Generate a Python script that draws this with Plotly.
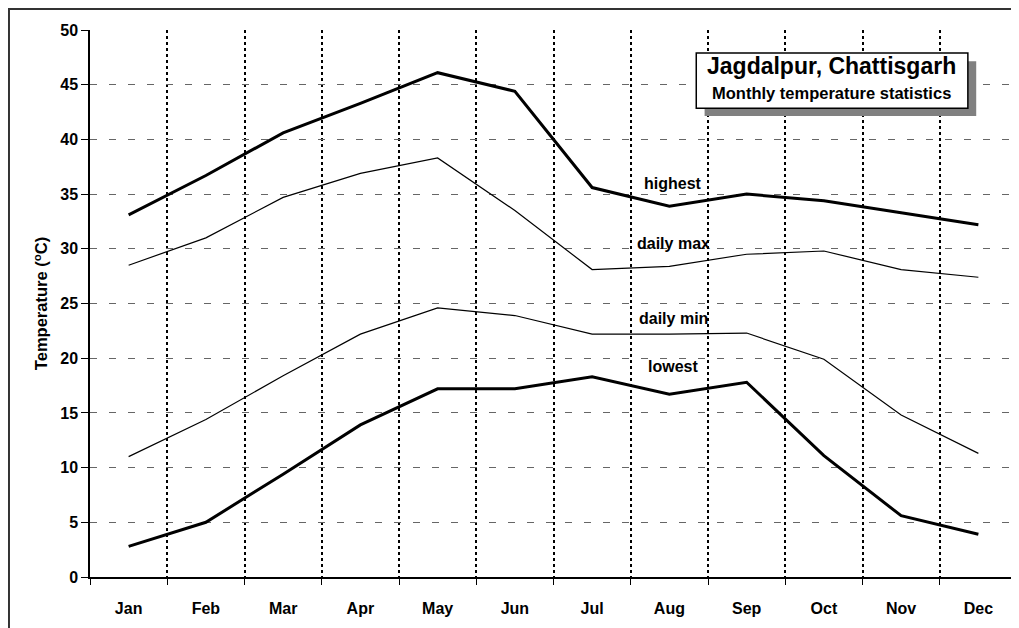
import plotly.graph_objects as go

# Monthly temperature statistics, Jagdalpur
months = ["Jan", "Feb", "Mar", "Apr", "May", "Jun", "Jul", "Aug", "Sep", "Oct", "Nov", "Dec"]
highest = [33.1, 36.7, 40.6, 43.3, 46.1, 44.4, 35.6, 33.9, 35.0, 34.4, 33.3, 32.2]
daily_max = [28.5, 31.0, 34.7, 36.9, 38.3, 33.5, 28.1, 28.4, 29.5, 29.8, 28.1, 27.4]
daily_min = [11.0, 14.4, 18.4, 22.2, 24.6, 23.9, 22.2, 22.2, 22.3, 19.9, 14.8, 11.3]
lowest = [2.8, 5.0, 9.4, 13.9, 17.2, 17.2, 18.3, 16.7, 17.8, 11.1, 5.6, 3.9]

x = list(range(1, len(months) + 1))
font = "Arial, Liberation Sans, sans-serif"

fig = go.Figure()
series = [(highest, 3), (daily_max, 1.2), (daily_min, 1.2), (lowest, 3)]
for vals, w in series:
    fig.add_trace(go.Scatter(x=x, y=vals, mode="lines",
                             line=dict(color="black", width=w), showlegend=False))

# curve labels
labels = [("highest", 36.0), ("daily max", 30.5), ("daily min", 23.6), ("lowest", 19.2)]
for txt, yy in labels:
    fig.add_annotation(x=8.05, y=yy, text="<b>%s</b>" % txt, showarrow=False,
                       font=dict(size=16, color="black", family=font))

# title box with shadow
fig.add_shape(type="rect", xref="paper", yref="paper", x0=0.663, x1=0.956, y0=0.843, y1=0.943,
              fillcolor="#808080", line=dict(width=0), layer="above")
fig.add_shape(type="rect", xref="paper", yref="paper", x0=0.654, x1=0.947, y0=0.857, y1=0.958,
              fillcolor="white", line=dict(color="black", width=1.5), layer="above")
fig.add_annotation(xref="paper", yref="paper", x=0.8, y=0.934, xanchor="center", yanchor="middle",
                   text="<b>Jagdalpur, Chattisgarh</b>",
                   showarrow=False, font=dict(size=23, color="black", family=font))
fig.add_annotation(xref="paper", yref="paper", x=0.8, y=0.885, xanchor="center", yanchor="middle",
                   text="<b>Monthly temperature statistics</b>",
                   showarrow=False, font=dict(size=16.5, color="black", family=font))

# outer frame (figure starts 8px into the window)
fig.add_shape(type="rect", xref="paper", yref="paper", x0=-0.0874, x1=1.2, y0=-0.3, y1=1.0384,
              line=dict(color="#333333", width=2), fillcolor="rgba(0,0,0,0)")

fig.update_layout(
    width=1019, height=628,
    margin=dict(l=82, r=10, t=22, b=59),
    paper_bgcolor="white", plot_bgcolor="white",
    font=dict(family=font, size=16, color="black"),
    xaxis=dict(
        range=[0.5, 12.5], tickvals=x, ticktext=["<b>%s</b>" % m for m in months],
        showgrid=False, zeroline=False, showline=True, linecolor="black", linewidth=1.5,
        ticks="outside", ticklen=16, tickcolor="rgba(0,0,0,0)",
        minor=dict(tick0=0.5, dtick=1, showgrid=True, gridcolor="black", gridwidth=2,
                   griddash="3px,3px", ticks="outside", ticklen=6, tickcolor="black", tickwidth=1),
    ),
    yaxis=dict(
        range=[0, 50], dtick=5, tickprefix="<b>", ticksuffix="</b>",
        showgrid=True, gridcolor="#666666", gridwidth=1, griddash="7px,12px",
        zeroline=False, showline=True, linecolor="black", linewidth=1.5,
        ticks="outside", ticklen=7, tickcolor="black",
        title=dict(text="<b>Temperature (<sup>o</sup>C)</b>", font=dict(size=16.5), standoff=8),
    ),
)

fig.write_html("out.html")
